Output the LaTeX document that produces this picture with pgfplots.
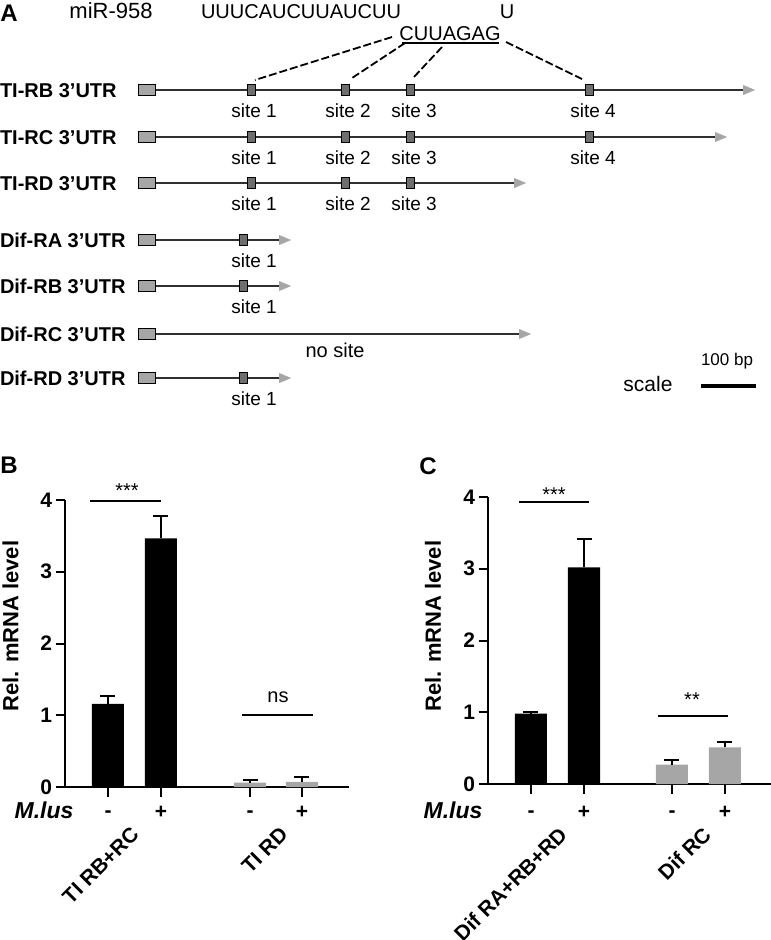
\documentclass[border=0pt]{standalone}
\usepackage{fontspec}
\setmainfont{Liberation Sans}
\usepackage{pgfplots}
\pgfplotsset{compat=1.18}
\usetikzlibrary{arrows.meta}
\newcommand{\fs}[1]{\fontsize{#1}{#1}\selectfont}
\definecolor{boxgray}{HTML}{A6A6A6}
\definecolor{sitegray}{HTML}{6E6E6E}
\definecolor{linegray}{HTML}{303030}
\definecolor{bargray}{HTML}{A6A6A6}
\tikzset{t/.style={inner sep=0pt, outer sep=0pt},
  row/.style={draw=linegray, line width=2pt, -{Triangle[length=12pt,width=10pt,color=boxgray,line width=0.1pt]}}}
\pgfplotsset{errb/.style={error bars/.cd, y dir=plus, y explicit, error bar style={line width=2pt, black},
  error mark=-, error mark options={rotate=90, mark size=7.5pt, line width=2pt, black}}}
\begin{document}
\begin{tikzpicture}
\useasboundingbox (0pt,-940pt) rectangle (771pt,0pt);
% ---------------- overlay axis in image coordinates ----------------
\begin{axis}[at={(0pt,0pt)}, anchor=north west, scale only axis, width=771pt, height=940pt,
  xmin=0, xmax=771, ymin=0, ymax=940, y dir=reverse, axis lines=none, clip=false]
% panel letters
\node[t, font=\fs{24}\bfseries] at (axis cs:9,13) {A};
\node[t, font=\fs{24}\bfseries] at (axis cs:9,465) {B};
\node[t, font=\fs{24}\bfseries] at (axis cs:428,466) {C};
% miRNA
\node[t, font=\fs{22}, anchor=base] at (axis cs:111,18) {miR-958};
\node[t, font=\fs{20}, anchor=base] at (axis cs:301,18) {UUUCAUCUUAUCUU};
\node[t, font=\fs{20}, anchor=base] at (axis cs:507,18) {U};
\node[t, font=\fs{20}, anchor=base] at (axis cs:450,40) {CUUAGAG};
\addplot[black, line width=1.5pt] coordinates {(402,43) (499,43)};
% dashed connectors
\addplot[black, line width=1.8pt, dash pattern=on 8pt off 3pt] coordinates {(392,37) (255,80)};
\addplot[black, line width=1.8pt, dash pattern=on 8pt off 3pt] coordinates {(405,43) (352,78)};
\addplot[black, line width=1.8pt, dash pattern=on 8pt off 3pt] coordinates {(442,47) (413,78)};
\addplot[black, line width=1.8pt, dash pattern=on 8pt off 3pt] coordinates {(506,42) (582,79)};
% rows
\addplot[row] coordinates {(155,90) (755,90)};
\addplot[row] coordinates {(155,137) (727,137)};
\addplot[row] coordinates {(155,183) (526,183)};
\addplot[row] coordinates {(155,240) (291,240)};
\addplot[row] coordinates {(155,286) (291,286)};
\addplot[row] coordinates {(155,334) (531,334)};
\addplot[row] coordinates {(155,378) (291,378)};
% grey boxes
\addplot[only marks, mark=square*, mark size=5.5pt, mark options={xscale=1.545, fill=boxgray, draw=none}]
 coordinates {(146.5,90) (146.5,137) (146.5,183) (146.5,240) (146.5,286) (146.5,334) (146.5,378)};
% sites
\addplot[only marks, mark=square*, mark size=5.5pt, mark options={xscale=0.68, fill=sitegray, draw=none}]
 coordinates {(251,90) (345,90) (410,90) (589,90)
              (251,137) (345,137) (410,137) (589,137)
              (251,183) (345,183) (410,183)
              (243,240) (243,286) (243,378)};
% row labels
\node[t, font=\fs{20}\bfseries, anchor=base west] at (axis cs:0,97) {TI-RB 3’UTR};
\node[t, font=\fs{20}\bfseries, anchor=base west] at (axis cs:0,144) {TI-RC 3’UTR};
\node[t, font=\fs{20}\bfseries, anchor=base west] at (axis cs:0,190) {TI-RD 3’UTR};
\node[t, font=\fs{20}\bfseries, anchor=base west] at (axis cs:0,247) {Dif-RA 3’UTR};
\node[t, font=\fs{20}\bfseries, anchor=base west] at (axis cs:0,293) {Dif-RB 3’UTR};
\node[t, font=\fs{20}\bfseries, anchor=base west] at (axis cs:0,341) {Dif-RC 3’UTR};
\node[t, font=\fs{20}\bfseries, anchor=base west] at (axis cs:0,385) {Dif-RD 3’UTR};
% site labels
\node[t, font=\fs{19}, anchor=base] at (axis cs:254,117) {site 1};
\node[t, font=\fs{19}, anchor=base] at (axis cs:348,117) {site 2};
\node[t, font=\fs{19}, anchor=base] at (axis cs:414,117) {site 3};
\node[t, font=\fs{19}, anchor=base] at (axis cs:593,117) {site 4};
\node[t, font=\fs{19}, anchor=base] at (axis cs:254,164) {site 1};
\node[t, font=\fs{19}, anchor=base] at (axis cs:348,164) {site 2};
\node[t, font=\fs{19}, anchor=base] at (axis cs:414,164) {site 3};
\node[t, font=\fs{19}, anchor=base] at (axis cs:593,164) {site 4};
\node[t, font=\fs{19}, anchor=base] at (axis cs:254,210) {site 1};
\node[t, font=\fs{19}, anchor=base] at (axis cs:348,210) {site 2};
\node[t, font=\fs{19}, anchor=base] at (axis cs:414,210) {site 3};
\node[t, font=\fs{19}, anchor=base] at (axis cs:254,267) {site 1};
\node[t, font=\fs{19}, anchor=base] at (axis cs:254,313) {site 1};
\node[t, font=\fs{20}, anchor=base] at (axis cs:335,357) {no site};
\node[t, font=\fs{19}, anchor=base] at (axis cs:254,405) {site 1};
% scale
\node[t, font=\fs{17}, anchor=base] at (axis cs:727,365) {100 bp};
\node[t, font=\fs{21}, anchor=base] at (axis cs:648,391) {scale};
\addplot[black, line width=4pt] coordinates {(701,386) (756,386)};
% panel B / C annotations
\node[t, font=\fs{22}\bfseries, rotate=90] at (axis cs:10.5,626) {Rel. mRNA level};
\node[t, font=\fs{22}\bfseries, rotate=90] at (axis cs:433,626) {Rel. mRNA level};
\node[t, font=\fs{23}\bfseries\itshape, anchor=base] at (axis cs:44,818) {M.lus};
\node[t, font=\fs{23}\bfseries\itshape, anchor=base] at (axis cs:453,818) {M.lus};
\node[t, font=\fs{21}\bfseries, anchor=base] at (axis cs:108,817) {-};
\node[t, font=\fs{21}\bfseries, anchor=base] at (axis cs:161,818) {+};
\node[t, font=\fs{21}\bfseries, anchor=base] at (axis cs:250,817) {-};
\node[t, font=\fs{21}\bfseries, anchor=base] at (axis cs:302,818) {+};
\node[t, font=\fs{21}\bfseries, anchor=base] at (axis cs:531,817) {-};
\node[t, font=\fs{21}\bfseries, anchor=base] at (axis cs:584,818) {+};
\node[t, font=\fs{21}\bfseries, anchor=base] at (axis cs:672,817) {-};
\node[t, font=\fs{21}\bfseries, anchor=base] at (axis cs:725,818) {+};
\node[t, font=\fs{21}\bfseries, rotate=45, anchor=east] at (axis cs:135,831) {TI RB+RC};
\node[t, font=\fs{21}\bfseries, rotate=45, anchor=east] at (axis cs:284,831) {TI RD};
\node[t, font=\fs{21}\bfseries, rotate=45, anchor=east] at (axis cs:563,831) {Dif RA+RB+RD};
\node[t, font=\fs{21}\bfseries, rotate=45, anchor=east] at (axis cs:707,831) {Dif RC};
\addplot[black, line width=2pt] coordinates {(90,501) (161,501)};
\addplot[black, line width=2pt] coordinates {(242,715) (313,715)};
\addplot[black, line width=2pt] coordinates {(519,502) (589,502)};
\addplot[black, line width=2pt] coordinates {(658,716) (728,716)};
\node[t, font=\fs{20}, anchor=base] at (axis cs:127,497) {***};
\node[t, font=\fs{20}, anchor=base] at (axis cs:278,702) {ns};
\node[t, font=\fs{20}, anchor=base] at (axis cs:554,501) {***};
\node[t, font=\fs{20}, anchor=base] at (axis cs:692,706) {**};
\end{axis}
% ---------------- panel B ----------------
\begin{axis}[at={(65pt,-787pt)}, anchor=south west, scale only axis, width=284pt, height=287pt,
  xmin=-0.811, xmax=4.547, ymin=0, ymax=4,
  axis x line*=bottom, axis y line*=left, axis line style={line width=2pt, -},
  xtick={0,1,2.68,3.66}, xticklabels={}, ytick={0,1,2,3,4},
  tick align=outside, major tick length=9.5pt, tick style={line width=2pt, black},
  yticklabel style={font=\fs{21}\bfseries}, /pgf/number format/assume math mode=true,
  clip=false]
\addplot[ybar, bar width=32pt, bar shift=0pt, fill=black, draw=none, errb]
  coordinates {(0,1.157) +- (0,0.11) (1,3.466) +- (0,0.31)};
\addplot[ybar, bar width=32pt, bar shift=0pt, fill=bargray, draw=none, errb]
  coordinates {(2.68,0.06) +- (0,0.04) (3.66,0.07) +- (0,0.07)};
\end{axis}
% ---------------- panel C ----------------
\begin{axis}[at={(488pt,-784pt)}, anchor=south west, scale only axis, width=283pt, height=287pt,
  xmin=-0.811, xmax=4.528, ymin=0, ymax=4,
  axis x line*=bottom, axis y line*=left, axis line style={line width=2pt, -},
  xtick={0,1,2.66,3.66}, xticklabels={}, ytick={0,1,2,3,4},
  tick align=outside, major tick length=9.5pt, tick style={line width=2pt, black},
  yticklabel style={font=\fs{21}\bfseries}, /pgf/number format/assume math mode=true,
  clip=false]
\addplot[ybar, bar width=32pt, bar shift=0pt, fill=black, draw=none, errb]
  coordinates {(0,0.98) +- (0,0.03) (1,3.02) +- (0,0.39)};
\addplot[ybar, bar width=32pt, bar shift=0pt, fill=bargray, draw=none, errb]
  coordinates {(2.66,0.27) +- (0,0.07) (3.66,0.51) +- (0,0.07)};
\end{axis}
\end{tikzpicture}
\end{document}
